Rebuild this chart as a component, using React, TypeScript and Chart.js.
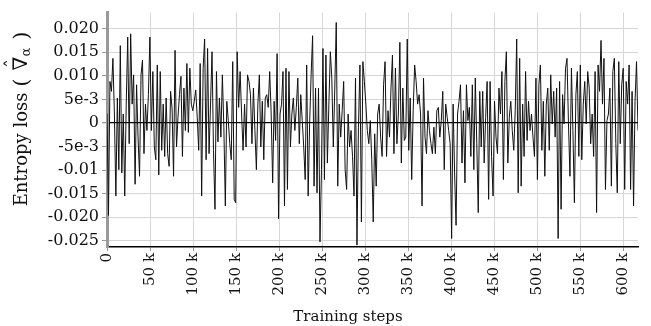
import { useEffect, useRef } from 'react';
import { Chart, registerables } from 'chart.js';

Chart.register(...registerables);

// x extent of the run (training steps)
const X_MAX = 617400;
// y extent in units of 1e-3
const Y_MIN = -26.3;
const Y_MAX = 23.4;

const xTickValues = [0, 50000, 100000, 150000, 200000, 250000, 300000, 350000, 400000, 450000, 500000, 550000, 600000];
const xTickLabels = ['0', '50 k', '100 k', '150 k', '200 k', '250 k', '300 k', '350 k', '400 k', '450 k', '500 k', '550 k', '600 k'];
const yTickValues = [-25, -20, -15, -10, -5, 0, 5, 10, 15, 20];
const yTickLabels = ['-0.025', '-0.020', '-0.015', '-0.01', '-5e-3', '0', '5e-3', '0.010', '0.015', '0.020'];
const xTitle = 'Training steps';

// Entropy loss values (x 1e-3), in consecutive stretches of the run
const lossStretch1 = [2.0, -19.6, 8.8, 6.7, 13.7, 1.9, -15.5, 5.3, -9.9, 16.4, -10.6, 1.9, -15.5, 4.0, 18.2, -4.4, 18.9, 4.0, 10.2, -13.0, 8.1, -3.0, -11.3, 10.2, 13.3, -6.5, 4.0, -1.6, 6.0, 18.2, -1.6, 10.9, -5.1, -7.8, 12.3, -11.0, 10.9, -5.8, 4.0, -7.1, 5.3, -6.5, -9.2, 6.7, 3.0, -11.3, 15.4, -5.1, 1.2, 6.0, 9.9];
const lossStretch2 = [-7.1, 7.4, -1.6, 12.6, -2.0, 11.6, 4.0, 2.6, 4.6, 7.0, 1.2, -5.8, 12.6, -15.5, 11.6, 17.8, -7.8, 15.8, -6.5, 4.0, 15.1, -5.8, -18.3, 10.9, -4.0, 5.3, -3.0, 10.2, -0.9, -17.6, 4.6, 0.5, -4.4, -7.8, 13.0, -16.2, -16.9, 15.1, 3.3, 10.9, 1.9, -5.8, 4.0, -5.1, 10.2, 8.8, 6.0, -4.4, 7.4, -1.6, -9.9];
const lossStretch3 = [4.0, 10.2, -5.1, 4.6, -7.8, 5.3, 6.0, 3.3, 10.9, 1.9, -12.7, 4.6, -3.7, 14.7, -20.3, 1.9, 4.0, 10.9, -17.6, 11.6, -14.1, 10.9, -5.1, 1.9, 5.3, -1.6, 3.3, 9.5, -4.4, 6.0, 0.5, -5.1, -12.0, 12.3, -15.5, -0.2, 10.2, 18.5, -13.4, 7.4, -14.8, 7.4, -25.2, -9.9, 15.8, -12.0, 14.4, -8.5, 4.0, 15.1, 9.5];
const lossStretch4 = [-5.1, 7.4, 21.3, -13.4, 4.0, -3.0, 2.6, 8.8, -9.9, -14.1, 1.9, -5.1, -1.6, -7.1, -15.5, 9.5, -25.9, -0.9, 12.3, -21.0, 13.0, 8.8, 4.0, -1.6, -4.4, 0.5, -7.8, -21.0, -2.3, -13.4, 1.9, 4.0, -3.0, -7.1, 8.1, 13.0, -7.1, 2.6, -3.0, 7.4, 14.4, -6.5, 11.6, -4.4, 1.9, 17.1, -8.5, 7.4, -3.7, -3.0, 17.8, -5.8, 5.3, -12.0, 2.6];
const lossStretch5 = [12.3, 8.8, 4.0, 6.0, 1.9, -17.6, 9.5, -3.0, -6.5, 2.6, -1.6, -4.4, -6.5, -0.9, -6.5, 2.6, 3.3, -3.0, 0.5, 6.7, -9.9, 4.0, 1.2, -1.6, -4.4, -24.5, 4.0, -10.6, -21.7, 1.9, 4.6, 8.1, -8.5, 2.6, -12.7, 8.1, 0.5, 3.3, -7.1, 8.1, -9.9, 9.5, -4.4, -19.0, 6.7, -5.1, 6.7, -8.5, 1.2, 8.8];
const lossStretch6 = [-16.2, 8.8, -7.1, -15.5, 4.6, -3.0, -6.5, 7.4, 1.9, 10.9, -12.0, 8.8, 15.1, -8.5, 1.2, 4.6, -1.6, -5.8, 2.6, 17.8, -14.8, 13.7, -13.4, 4.0, -7.1, 10.9, -3.7, 4.6, -1.6, 1.9, -3.0, -7.1, 9.5, -12.0, 8.1, 12.3, -5.8, 4.6, -11.3, 4.0, 7.4, -5.8, 10.2, -0.2, 6.7, -3.0, 7.4, -24.5, 8.8, -18.3, 6.0, -0.2, 11.6];
const lossStretch7 = [13.7, -0.2, -11.3, 11.6, -1.6, -16.9, 6.0, 10.9, -7.1, 12.3, -7.8, 4.0, 8.8, -0.2, 10.9, 7.4, -4.4, 1.9, -7.1, 10.9, -19.0, 12.3, 6.7, 17.5, 4.0, 13.7, -14.1, 0.5, 1.9, 7.4, -13.4, 10.9, 13.7, -4.4, -14.8, 13.0, -4.4, 8.1, 11.6, -14.1, 8.8, 4.0, 12.3, -14.1, 6.7, -17.6, 4.6, 13.0, -1.6];

const FONT = '"DejaVu Serif", serif';
const TEXT = '#111';

const titlesPlugin = {
  id: 'titles',
  afterDraw(chart: any) {
    const ctx = chart.ctx as CanvasRenderingContext2D;
    // x-axis title
    ctx.save();
    ctx.fillStyle = TEXT;
    ctx.font = `15px ${FONT}`;
    ctx.textAlign = 'center';
    ctx.textBaseline = 'middle';
    ctx.fillText(xTitle, 348, 317);
    ctx.restore();

    // y-axis title with hatted nabla and subscript alpha
    ctx.save();
    ctx.translate(27, 119);
    ctx.rotate(-Math.PI / 2);
    ctx.fillStyle = TEXT;
    ctx.textBaseline = 'alphabetic';
    ctx.textAlign = 'left';
    const mainFont = `18px ${FONT}`;
    const parenFont = `21px ${FONT}`;
    const nablaFont = `20px ${FONT}`;
    const subFont = `13px ${FONT}`;
    const a = 'Entropy loss ';
    ctx.font = mainFont;
    const wA = ctx.measureText(a).width;
    ctx.font = parenFont;
    const wOpen = ctx.measureText('(').width;
    const wClose = ctx.measureText(')').width;
    ctx.font = nablaFont;
    const wN = ctx.measureText('\u2207').width;
    ctx.font = subFont;
    const wAl = ctx.measureText('\u03B1').width;
    const gap = 8;
    const total = wA + wOpen + gap + wN + wAl + gap + wClose;
    let x = -total / 2;
    ctx.font = mainFont;
    ctx.fillText(a, x, 0);
    x += wA;
    ctx.font = parenFont;
    ctx.fillText('(', x, 1);
    x += wOpen + gap;
    ctx.font = nablaFont;
    ctx.fillText('\u2207', x, 0);
    ctx.font = `18px ${FONT}`;
    ctx.textAlign = 'center';
    ctx.fillText('\u02C6', x + wN / 2, -8);
    ctx.textAlign = 'left';
    x += wN;
    ctx.font = subFont;
    ctx.fillText('\u03B1', x, 3);
    x += wAl + gap;
    ctx.font = parenFont;
    ctx.fillText(')', x, 1);
    ctx.restore();
  },
};

export default function App() {
  const ref = useRef<HTMLCanvasElement>(null);
  useEffect(() => {
    document.body.style.margin = '0';
    const entropyLoss = [
      ...lossStretch1, ...lossStretch2, ...lossStretch3, ...lossStretch4,
      ...lossStretch5, ...lossStretch6, ...lossStretch7,
    ];
    const n = entropyLoss.length;
    const points = entropyLoss.map((y, i) => ({ x: (i * X_MAX) / (n - 1), y }));
    const chart = new Chart(ref.current as HTMLCanvasElement, {
      type: 'line',
      data: {
        datasets: [{
          data: points,
          borderColor: '#111',
          borderWidth: 1,
          pointRadius: 0,
          tension: 0,
          fill: false,
        }],
      },
      options: {
        animation: false,
        responsive: true,
        maintainAspectRatio: false,
        plugins: { legend: { display: false }, tooltip: { enabled: false } },
        layout: { padding: { top: 7, right: 13, left: 0, bottom: 0 } },
        scales: {
          x: {
            type: 'linear',
            min: 0,
            max: X_MAX,
            afterFit: (s: any) => { s.height = 79; },
            afterBuildTicks: (s: any) => { s.ticks = xTickValues.map((v) => ({ value: v })); },
            ticks: {
              autoSkip: false,
              minRotation: 90,
              maxRotation: 90,
              padding: 2,
              color: TEXT,
              font: { family: FONT, size: 15 },
              callback: (_v: any, i: number) => xTickLabels[i],
            },
            grid: { color: '#d6d6d6', lineWidth: 1, tickLength: 4, tickColor: '#999' },
            border: { display: true, color: '#000', width: 1.5 },
          },
          y: {
            type: 'linear',
            min: Y_MIN,
            max: Y_MAX,
            afterFit: (s: any) => { s.width = 107; },
            afterBuildTicks: (s: any) => { s.ticks = yTickValues.map((v) => ({ value: v })); },
            ticks: {
              padding: 3,
              color: TEXT,
              font: { family: FONT, size: 16 },
              callback: (_v: any, i: number) => yTickLabels[i],
            },
            grid: {
              color: (c: any) => (c.tick && c.tick.value === 0 ? '#000' : '#d6d6d6'),
              lineWidth: (c: any) => (c.tick && c.tick.value === 0 ? 1.3 : 1),
              tickLength: 5,
              tickColor: '#999',
            },
            border: { display: true, color: '#999', width: 3 },
          },
        },
      },
      plugins: [titlesPlugin],
    });
    return () => chart.destroy();
  }, []);
  return (
    <div style={{ width: 651, height: 326, position: 'relative' }}>
      <canvas ref={ref} />
    </div>
  );
}
